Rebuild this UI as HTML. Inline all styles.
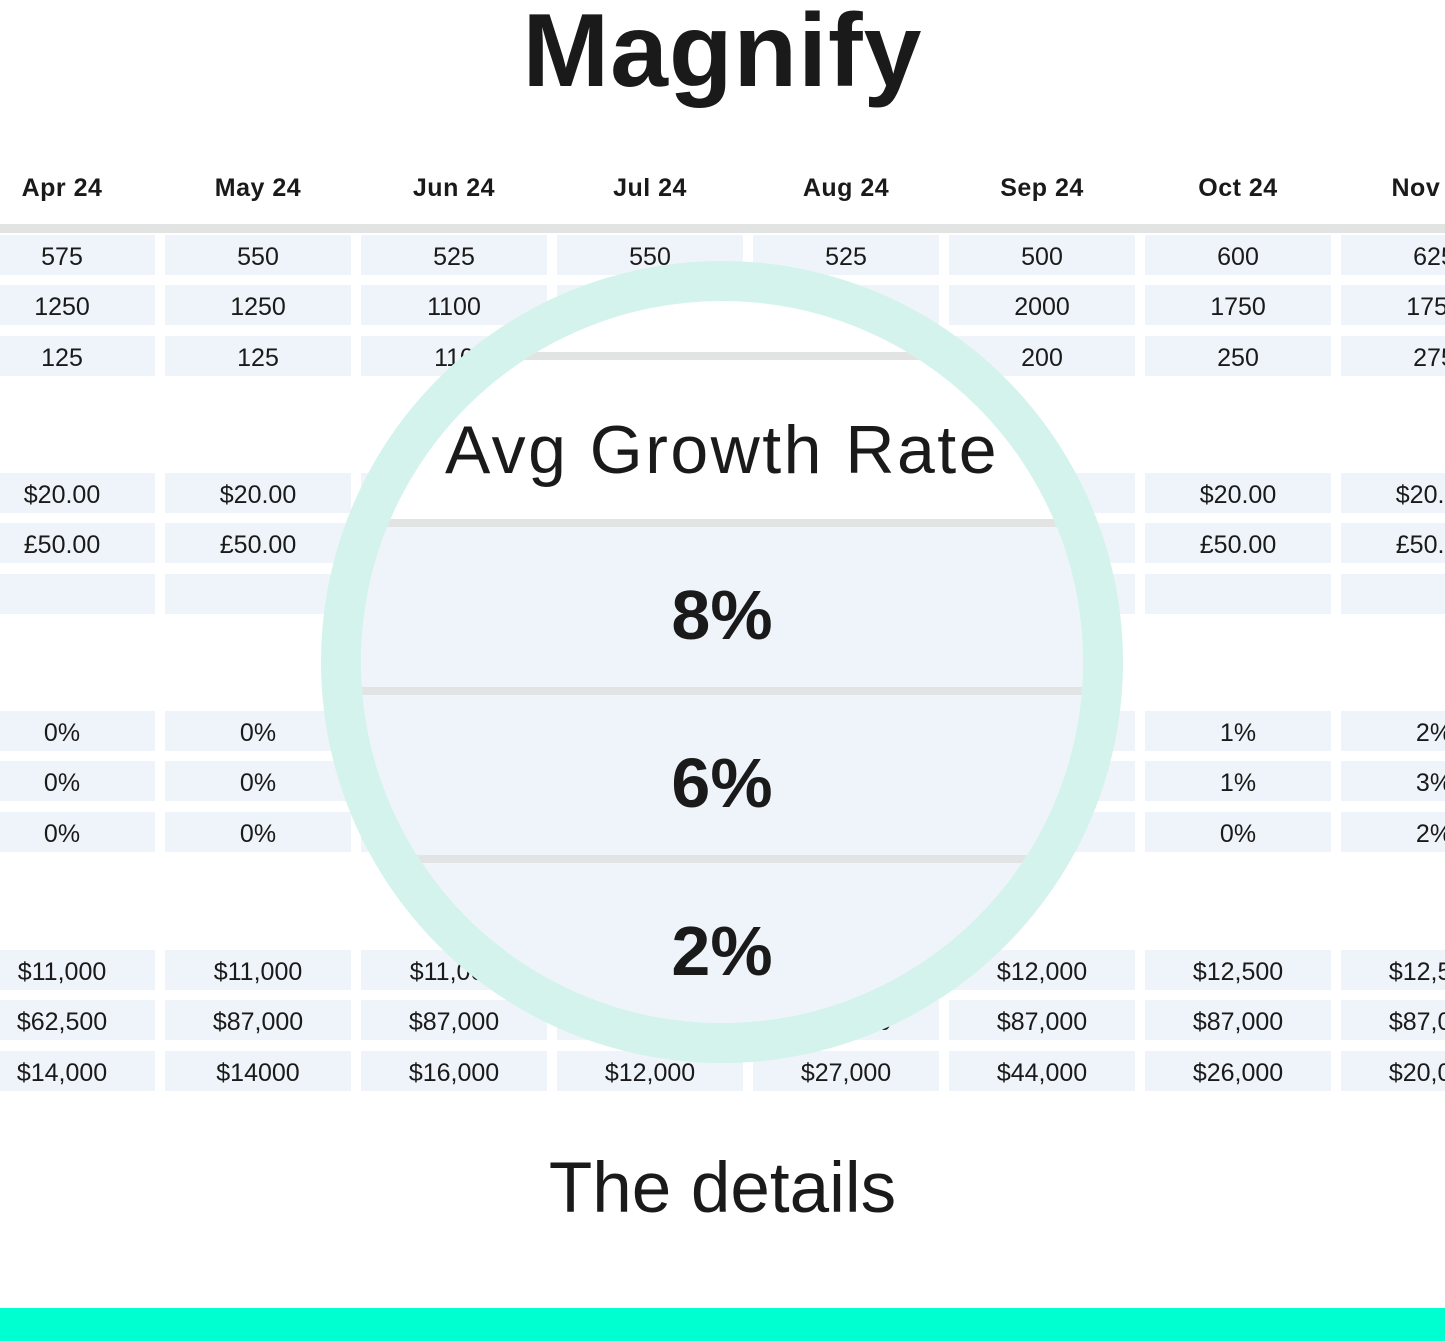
<!DOCTYPE html>
<html><head><meta charset="utf-8">
<style>
*{margin:0;padding:0;box-sizing:border-box}
body{width:1445px;height:1341px;overflow:hidden;background:#fff;position:relative;font-family:"Liberation Sans",sans-serif;color:#1a1a1a}
.title{position:absolute;left:0;width:1445px;top:-8px;text-align:center;font-size:104px;font-weight:bold;letter-spacing:1px}
.hdr{position:absolute;top:174px;left:-31px;display:flex;gap:10px}
.hdr div{width:186px;text-align:center;font-size:25px;font-weight:bold;letter-spacing:0.5px}
.bar{position:absolute;left:0;width:1445px;top:224px;height:9px;background:#e2e3e3}
.row{position:absolute;left:-31px;display:flex;gap:10px}
.row div{width:186px;height:40px;background:#eef4f9;text-align:center;font-size:25px;line-height:45px}
.ring{position:absolute;left:321px;top:261px;width:802px;height:802px;border-radius:50%;background:#d3f3ec}
.disc{position:absolute;left:361px;top:301px;width:722px;height:722px;border-radius:50%;background:#fff;overflow:hidden}
.disc .ib{position:absolute;left:0;width:722px;height:8px;background:#e2e3e3}
.disc .ic{position:absolute;left:0;width:722px;background:#eef4f9;text-align:center;font-size:70px;font-weight:bold}
.agr{position:absolute;left:0;width:722px;top:110px;text-align:center;font-size:68px;letter-spacing:2.5px}
.details{position:absolute;left:0;width:1445px;top:1148px;text-align:center;font-size:71px}
.teal{position:absolute;left:0;top:1308px;width:1445px;height:33px;background:#00ffd0}
</style></head><body>
<div class="title">Magnify</div>
<div class="hdr"><div>Apr 24</div><div>May 24</div><div>Jun 24</div><div>Jul 24</div><div>Aug 24</div><div>Sep 24</div><div>Oct 24</div><div>Nov 24</div></div>
<div class="bar"></div>
<div class="row" style="top:235px"><div>575</div><div>550</div><div>525</div><div>550</div><div>525</div><div>500</div><div>600</div><div>625</div></div>
<div class="row" style="top:285px"><div>1250</div><div>1250</div><div>1100</div><div>1500</div><div>1750</div><div>2000</div><div>1750</div><div>1750</div></div>
<div class="row" style="top:336px"><div>125</div><div>125</div><div>110</div><div>150</div><div>175</div><div>200</div><div>250</div><div>275</div></div>
<div class="row" style="top:473px"><div>$20.00</div><div>$20.00</div><div>$20.00</div><div>$20.00</div><div>$20.00</div><div>$20.00</div><div>$20.00</div><div>$20.00</div></div>
<div class="row" style="top:523px"><div>£50.00</div><div>£50.00</div><div>£50.00</div><div>£50.00</div><div>£50.00</div><div>£50.00</div><div>£50.00</div><div>£50.00</div></div>
<div class="row" style="top:574px"><div></div><div></div><div></div><div></div><div></div><div></div><div></div><div></div></div>
<div class="row" style="top:711px"><div>0%</div><div>0%</div><div>0%</div><div>0%</div><div>1%</div><div>1%</div><div>1%</div><div>2%</div></div>
<div class="row" style="top:761px"><div>0%</div><div>0%</div><div>0%</div><div>0%</div><div>1%</div><div>1%</div><div>1%</div><div>3%</div></div>
<div class="row" style="top:812px"><div>0%</div><div>0%</div><div>0%</div><div>0%</div><div>0%</div><div>0%</div><div>0%</div><div>2%</div></div>
<div class="row" style="top:950px"><div>$11,000</div><div>$11,000</div><div>$11,000</div><div>$11,000</div><div>$12,000</div><div>$12,000</div><div>$12,500</div><div>$12,500</div></div>
<div class="row" style="top:1000px"><div>$62,500</div><div>$87,000</div><div>$87,000</div><div>$87,000</div><div>$87,000</div><div>$87,000</div><div>$87,000</div><div>$87,000</div></div>
<div class="row" style="top:1051px"><div>$14,000</div><div>$14000</div><div>$16,000</div><div>$12,000</div><div>$27,000</div><div>$44,000</div><div>$26,000</div><div>$20,000</div></div>
<div class="ring"></div>
<div class="disc">
  <div class="ib" style="top:51px"></div>
  <div class="agr">Avg Growth Rate</div>
  <div class="ib" style="top:218px"></div>
  <div class="ic" style="top:226px;height:160px;line-height:176px">8%</div>
  <div class="ib" style="top:386px"></div>
  <div class="ic" style="top:394px;height:160px;line-height:176px">6%</div>
  <div class="ib" style="top:554px"></div>
  <div class="ic" style="top:562px;height:170px;line-height:176px">2%</div>
</div>
<div class="details">The details</div>
<div class="teal"></div>
</body></html>
